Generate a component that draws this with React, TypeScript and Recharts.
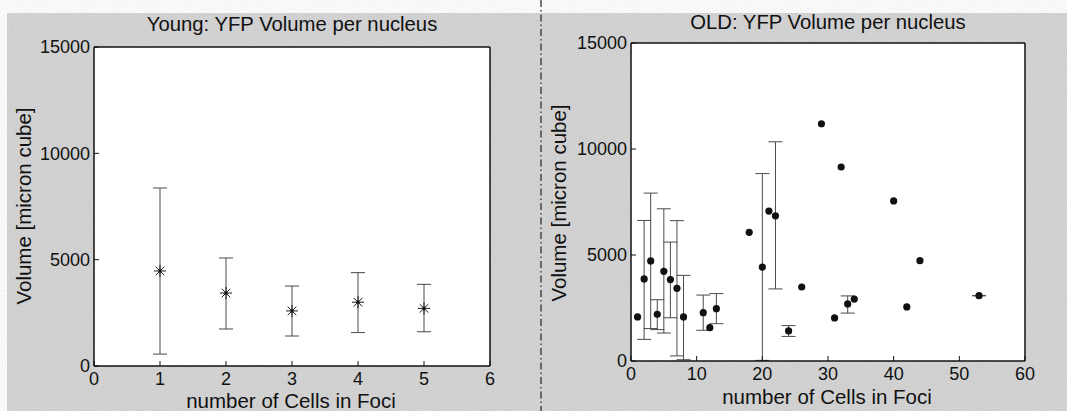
import { ScatterChart, Scatter, XAxis, YAxis, ErrorBar, CartesianGrid } from 'recharts'

// young cells: one point per foci size, mean with min/max range
const youngX = [1, 2, 3, 4, 5]
const youngMean = [4470, 3430, 2590, 3000, 2710]
const youngLow = [560, 1740, 1410, 1570, 1610]
const youngHigh = [8370, 5080, 3760, 4390, 3840]
const youngTicks = [0, 1, 2, 3, 4, 5, 6]

// old cells (null = no range drawn)
const oldX = [1, 2, 3, 4, 5, 6, 7, 8, 11, 12, 13, 18, 20, 21, 22, 24, 26, 29, 31, 32, 33, 34, 40, 42, 44, 53]
const oldMean = [2080, 3870, 4720, 2200, 4230, 3840, 3430, 2080, 2280, 1570, 2470, 6070, 4430, 7070, 6850, 1420, 3490, 11190, 2030, 9150, 2690, 2920, 7550, 2550, 4730, 3080]
const oldLow = [null, 1020, 1530, 1480, 1320, 2040, 240, 60, 1450, null, 1760, null, 30, null, 3400, 1160, null, null, null, null, 2260, null, null, null, null, 3080]
const oldHigh = [null, 6630, 7920, 2890, 7180, 5610, 6620, 4040, 3110, null, 3180, null, 8840, null, 10340, 1670, null, null, null, null, 3070, null, null, null, null, 3080]
const oldTicks = [0, 10, 20, 30, 40, 50, 60]

const yTicks = [0, 5000, 10000, 15000]

const FONT = '"Liberation Sans", Arial, sans-serif'

type Pt = { x: number; y: number; err?: [number, number] }

const build = (xs: number[], ys: number[], lo: (number | null)[], hi: (number | null)[]) => {
  const withErr: Pt[] = []
  const plain: Pt[] = []
  xs.forEach((x, i) => {
    const l = lo[i], h = hi[i]
    if (l == null || h == null) plain.push({ x, y: ys[i] })
    else withErr.push({ x, y: ys[i], err: [ys[i] - l, h - ys[i]] })
  })
  return { withErr, plain }
}

const young = build(youngX, youngMean, youngLow, youngHigh)
const old = build(oldX, oldMean, oldLow, oldHigh)

const Star = (p: any) => {
  const { cx, cy } = p
  const r = 6, d = 4.3
  return (
    <g stroke="#1a1a1a" strokeWidth={1}>
      <line x1={cx - r} y1={cy} x2={cx + r} y2={cy} />
      <line x1={cx} y1={cy - r} x2={cx} y2={cy + r} />
      <line x1={cx - d} y1={cy - d} x2={cx + d} y2={cy + d} />
      <line x1={cx - d} y1={cy + d} x2={cx + d} y2={cy - d} />
      <circle cx={cx} cy={cy} r={1.6} fill="#111" stroke="none" />
    </g>
  )
}

const Dot = (p: any) => <circle cx={p.cx} cy={p.cy} r={3.6} fill="#111" />

const tickStyle = { fill: '#111', fontSize: 18, fontFamily: FONT }
const line = { stroke: '#111', strokeWidth: 1.5 }

interface PanelProps {
  left: number
  width: number
  margin: { top: number; right: number; bottom: number; left: number }
  xTicks: number[]
  data: { withErr: Pt[]; plain: Pt[] }
  shape: (p: any) => any
}

function Panel({ left, width, margin, xTicks, data, shape }: PanelProps) {
  const xDom: [number, number] = [xTicks[0], xTicks[xTicks.length - 1]]
  return (
    <div style={{ position: 'absolute', left, top: 0 }}>
      <ScatterChart width={width} height={411} margin={margin}>
        <CartesianGrid xAxisId="b" yAxisId="l" fill="#fff" horizontal={false} vertical={false} stroke="none" />
        <XAxis xAxisId="b" type="number" dataKey="x" domain={xDom} ticks={xTicks} height={1}
          orientation="bottom" tickSize={-5} tickMargin={11} tick={tickStyle}
          axisLine={line} tickLine={{ stroke: '#111' }} allowDataOverflow />
        <XAxis xAxisId="t" type="number" dataKey="x" domain={xDom} ticks={xTicks} height={1}
          orientation="top" tickSize={-5} tick={false}
          axisLine={line} tickLine={{ stroke: '#111' }} allowDataOverflow />
        <YAxis yAxisId="l" type="number" dataKey="y" domain={[0, 15000]} ticks={yTicks} width={1}
          orientation="left" tickSize={-5} tickMargin={9} tick={tickStyle}
          axisLine={line} tickLine={{ stroke: '#111' }} allowDataOverflow />
        <YAxis yAxisId="r" type="number" dataKey="y" domain={[0, 15000]} ticks={yTicks} width={1}
          orientation="right" tickSize={-5} tick={false}
          axisLine={line} tickLine={{ stroke: '#111' }} allowDataOverflow />
        <Scatter xAxisId="b" yAxisId="l" data={data.withErr} shape={shape} isAnimationActive={false}>
          <ErrorBar dataKey="err" direction="y" width={7} stroke="#4a4a4a" strokeWidth={1} />
        </Scatter>
        <Scatter xAxisId="b" yAxisId="l" data={data.plain} shape={shape} isAnimationActive={false} />
      </ScatterChart>
    </div>
  )
}

export default function App() {
  return (
    <div style={{ position: 'absolute', left: 0, top: 0, width: 1067, height: 411, overflow: 'hidden', fontFamily: FONT }}>
      <svg width={1067} height={411} style={{ position: 'absolute', left: 0, top: 0 }}>
        <defs>
          <filter id="grain">
            <feTurbulence type="fractalNoise" baseFrequency="0.85" numOctaves={2} seed={3} />
            <feColorMatrix type="saturate" values="0" />
          </filter>
        </defs>
        <rect x={0} y={0} width={1067} height={411} fill="#fff" />
        <rect x={7} y={13} width={1060} height={398} fill="#d3d3d3" />
        <rect x={7} y={13} width={1060} height={398} filter="url(#grain)" opacity={0.2} />
      </svg>
      <Panel left={0} width={533} margin={{ top: 46, right: 42, bottom: 44, left: 93 }}
        xTicks={youngTicks} data={young} shape={Star} />
      <Panel left={533} width={534} margin={{ top: 42, right: 41, bottom: 49, left: 97 }}
        xTicks={oldTicks} data={old} shape={Dot} />
      <svg width={1067} height={411} style={{ position: 'absolute', left: 0, top: 0, pointerEvents: 'none' }}
        fontFamily={FONT} fill="#111">
        <line x1={541} y1={0} x2={541} y2={411} stroke="#333" strokeWidth={1.3} strokeDasharray="7 3 1.5 3" />
        <text x={292} y={31} fontSize={20.3} textAnchor="middle">Young: YFP Volume per nucleus</text>
        <text x={291} y={408} fontSize={20.5} textAnchor="middle">number of Cells in Foci</text>
        <text transform="translate(31,206) rotate(-90)" fontSize={20.5} textAnchor="middle">Volume [micron cube]</text>
        <text x={828} y={29} fontSize={20.3} textAnchor="middle">OLD: YFP Volume per nucleus</text>
        <text x={827} y={404} fontSize={20.5} textAnchor="middle">number of Cells in Foci</text>
        <text transform="translate(566,203) rotate(-90)" fontSize={20.5} textAnchor="middle">Volume [micron cube]</text>
      </svg>
    </div>
  )
}
